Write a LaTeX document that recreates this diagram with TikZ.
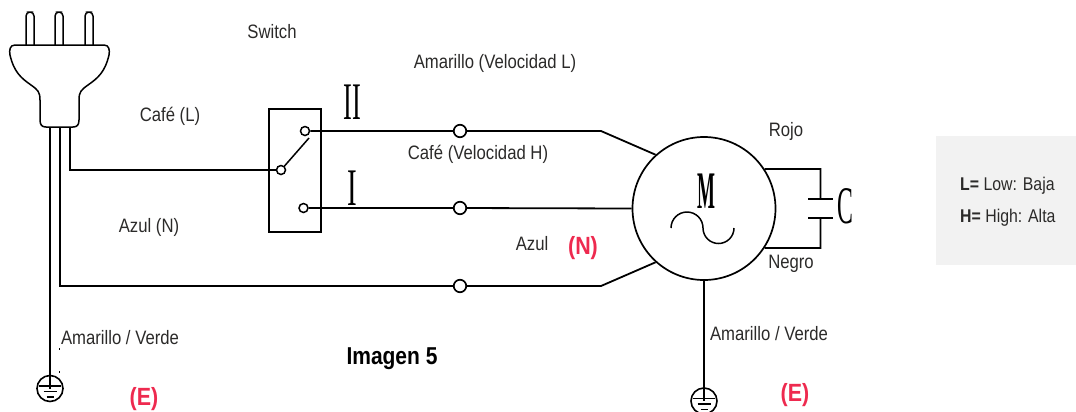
\documentclass[tikz,border=0pt]{standalone}
\usepackage{fontspec}
\setmainfont[FakeStretch=0.86]{Liberation Sans}
\newfontfamily\markfont{Liberation Serif}
\definecolor{inkgray}{HTML}{2B2A29}
\definecolor{labelred}{HTML}{EE2A4F}
\definecolor{boxgray}{HTML}{F2F2F2}
\tikzset{
  wire/.style={line width=1.8bp, black},
  thinwire/.style={line width=1.5bp, black},
  junction/.style={circle, draw, line width=1.7bp, inner sep=0pt, minimum size=12.5bp},
  contact/.style={circle, draw, line width=1.5bp, inner sep=0pt, minimum size=9bp},
  gndcircle/.style={circle, draw, line width=1.6bp, inner sep=0pt, minimum size=26bp},
  lbl/.style={font=\fontsize{19.5}{22}\selectfont, text=inkgray, inner sep=0pt},
  keylbl/.style={font=\fontsize{18.5}{21}\selectfont, text=inkgray, inner sep=0pt, anchor=west},
  redlbl/.style={font=\fontsize{25}{27}\selectfont\bfseries, text=labelred, inner sep=0pt},
  tallmark/.style={font=\fontsize{53}{53}\markfont, inner sep=0pt}
}
\begin{document}
\begin{tikzpicture}[x=1bp, y=-1bp]
\useasboundingbox (0,0) rectangle (1076,411);

\fill[boxgray] (936,136) rectangle (1076,265);

\draw[thinwire, rounded corners=4bp] (26,45) -- (26,12) -- (34,12) -- (34,45);
\draw[thinwire, rounded corners=4bp] (55,45) -- (55,12) -- (63,12) -- (63,45);
\draw[thinwire, rounded corners=4bp] (85,45) -- (85,12) -- (93,12) -- (93,45);
\draw[thinwire] (15,45) -- (104,45) .. controls (109,45) and (110,50) .. (109,55)
  .. controls (105,72) and (98,78) .. (88,85) .. controls (81,90) and (79,92) .. (79,100)
  -- (79,120) .. controls (79,125) and (77,127) .. (73,127) -- (46,127)
  .. controls (42,127) and (40,125) .. (40,120) -- (40,100)
  .. controls (40,92) and (38,90) .. (31,85) .. controls (21,78) and (14,72) .. (10,55)
  .. controls (9,50) and (10,45) .. (15,45);

\coordinate (plugE) at (50,127);
\coordinate (plugN) at (60,127);
\coordinate (plugL) at (70,127);

\draw[thinwire] (269,109) rectangle (321,232);
\node[contact] (contactII) at (305,131) {};
\node[contact] (contactI) at (303.5,208) {};
\node[contact] (common) at (281,170) {};
\coordinate (leverEnd) at (309,138);
\draw[thinwire] (common) -- (leverEnd);

\node[junction] (junII) at (460,131) {};
\node[junction] (junI) at (460,208) {};
\node[junction] (junN) at (460,286) {};
\node[circle, draw, line width=1.7bp, inner sep=0pt, minimum size=143bp] (motor) at (704,208.5) {};

\coordinate (bendII) at (601,131);
\coordinate (bendN) at (601,286);
\coordinate (capTop) at (820.5,169);
\coordinate (capBot) at (820.5,248);
\coordinate (plateTop) at (820.5,199);
\coordinate (plateBot) at (820.5,218);

\node[gndcircle] (gndL) at (50,388.5) {};
\node[gndcircle] (gndM) at (704,401) {};

\draw[wire] (plugL) |- (common);
\draw[wire] (plugN) |- (junN);
\draw[wire] (plugE) -- (gndL);
\draw[wire] (contactII) -- (junII) -- (bendII) -- (motor.132);
\draw[wire] (contactI) -- (junI) -- (motor.180);
\draw[wire] (junN) -- (bendN) -- (motor.228);
\draw[wire] (motor.270) -- (gndM);
\draw[wire] (motor.33.6) -- (capTop) -- (plateTop);
\draw[wire] (motor.-33.6) -- (capBot) -- (plateBot);
\draw[wire] ([xshift=-12.5bp]plateTop) -- ([xshift=12.5bp]plateTop);
\draw[wire] ([xshift=-12.5bp]plateBot) -- ([xshift=12.5bp]plateBot);

\foreach \g in {gndL,gndM}{
  \draw[thinwire] (\g.center) -- (\g.north);
  \draw[thinwire] ([shift={(-11,-2.5)}]\g.center) -- ([shift={(11,-2.5)}]\g.center);
  \draw[thinwire] ([shift={(-6.5,3)}]\g.center) -- ([shift={(6.5,3)}]\g.center);
  \draw[thinwire] ([shift={(-3.5,8.5)}]\g.center) -- ([shift={(3.5,8.5)}]\g.center);
}

\fill (59,348) rectangle (60,350);
\fill (59,371) rectangle (60,373);

\draw[thinwire] (671,228) arc[start angle=180, end angle=360, radius=16]
  arc[start angle=180, end angle=0, radius=15.5];

\node[tallmark, xscale=0.36, font=\fontsize{53}{53}\markfont\bfseries] (markM) at (706,191.5) {M};
\node[tallmark, xscale=0.45] (markC) at (845,206.5) {C};
\node[tallmark, xscale=0.5] (markII) at (352,102) {II};
\node[tallmark, xscale=0.55] (markI) at (352,188) {I};

\node[lbl] (switchlbl) at (272,32) {Switch};
\node[lbl] (velL) at (495,63) {Amarillo (Velocidad L)};
\node[lbl] (cafeL) at (170,116) {Café (L)};
\node[lbl] (rojo) at (786,131) {Rojo};
\node[lbl] (velH) at (478,154) {Café (Velocidad H)};
\node[lbl] (azulN) at (149,227) {Azul (N)};
\node[lbl] (azul) at (532,244) {Azul};
\node[lbl] (negro) at (791,264) {Negro};
\node[lbl] (verdeL) at (120,338) {Amarillo / Verde};
\node[lbl] (verdeM) at (769,334) {Amarillo / Verde};
\node[lbl, font=\fontsize{24.5}{26}\selectfont\bfseries, text=black] (imagen) at (392,359) {Imagen 5};
\node[redlbl] (redN) at (583,248) {(N)};
\node[redlbl] (redEL) at (144,399) {(E)};
\node[redlbl] (redEM) at (795,395) {(E)};
\node[keylbl] (lowlbl) at (960,186) {\textbf{L=} Low: Baja};
\node[keylbl] (highlbl) at (960,218) {\textbf{H=} High: Alta};

\end{tikzpicture}
\end{document}
